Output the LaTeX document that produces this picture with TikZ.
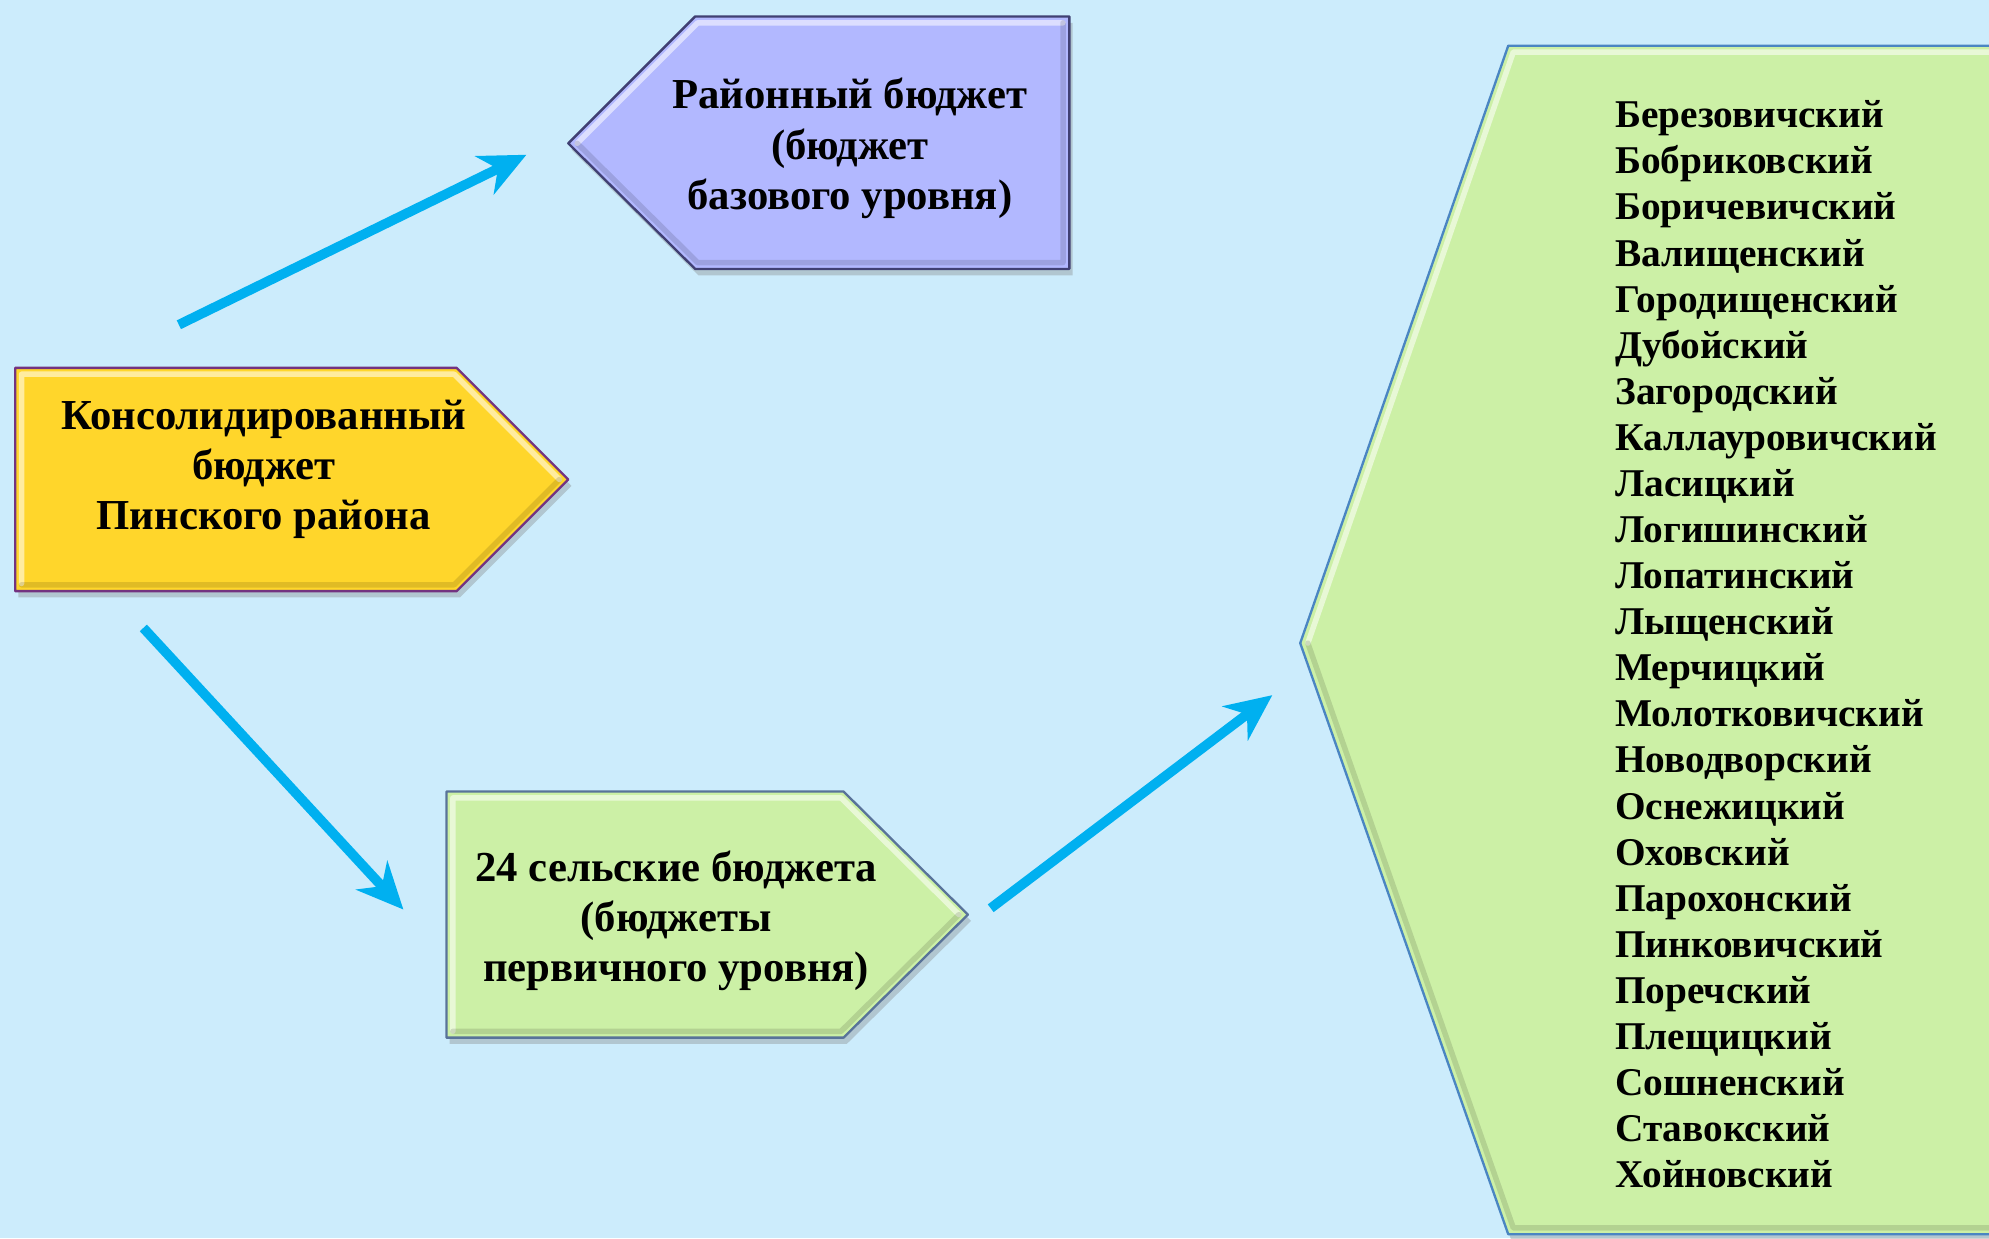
\documentclass[tikz,border=0pt]{standalone}
\usepackage{fontspec}
\setmainfont{Liberation Serif}
\usetikzlibrary{arrows.meta,shadows}
\definecolor{ccebfd}{rgb}{0.8,0.925,0.99}
\definecolor{ffd52a}{rgb}{1.,0.84,0.17}
\definecolor{ttqqaa}{rgb}{0.45,0.2,0.5}
\definecolor{b3b7fe}{rgb}{0.7,0.72,1.}
\definecolor{qqqqtt}{rgb}{0.25,0.25,0.45}
\definecolor{cdf0a6}{rgb}{0.8,0.94,0.65}
\definecolor{tthhbb}{rgb}{0.35,0.45,0.6}
\definecolor{qqttcc}{rgb}{0.29,0.52,0.76}
\definecolor{qqbbff}{rgb}{0.,0.69,0.94}
\begin{document}
\begin{tikzpicture}[line cap=round,line join=round,x=0.6pt,y=-0.6pt,
  >={Stealth[length=22pt,width=20pt,inset=7pt]},
  box/.style={line width=1.1pt,drop shadow={opacity=0.35,shadow xshift=1.5pt,shadow yshift=-3pt}},
  hi/.style={white,opacity=0.55,line width=2.6pt},
  lo/.style={black,opacity=0.12,line width=2.6pt},
  lbl/.style={align=center,inner sep=0pt,font=\fontsize{20.2}{23.7}\selectfont\bfseries},
  lst/.style={align=left,inner sep=0pt,font=\fontsize{18.6}{21.8}\selectfont\bfseries},
  arr/.style={->,line width=4.6pt,line cap=butt,color=qqbbff}]
\useasboundingbox (0,0) rectangle (1568,976);
\fill[ccebfd] (0,0) rectangle (1568,976);
\clip (0,0) rectangle (1568,976);
\draw[box,fill=ffd52a,draw=ttqqaa] (12,290) -- (360,290) -- (448,378) -- (360,466) -- (12,466) -- cycle;
\draw[hi] (17,460) -- (17,295) -- (358,295) -- (441,378);
\draw[lo] (441,378) -- (358,461) -- (17,461);
\draw[box,fill=b3b7fe,draw=qqqqtt] (448,113) -- (548,13) -- (843,13) -- (843,212) -- (548,212) -- cycle;
\draw[hi] (455,113) -- (550,18) -- (838,18);
\draw[lo] (838,18) -- (838,207) -- (550,207) -- (455,113);
\draw[box,fill=cdf0a6,draw=tthhbb] (352,624) -- (665,624) -- (763,721) -- (665,818) -- (352,818) -- cycle;
\draw[hi] (357,813) -- (357,629) -- (663,629) -- (756,721);
\draw[lo] (756,721) -- (663,813) -- (357,813);
\draw[box,fill=cdf0a6,draw=qqttcc] (1025,507) -- (1189,36) -- (1600,36) -- (1600,973) -- (1189,973) -- cycle;
\draw[hi] (1031,507) -- (1193,41) -- (1600,41);
\draw[lo] (1031,507) -- (1193,968) -- (1600,968);
\node[lbl] (kons) at (208,370) {Консолидированный\\бюджет\\Пинского района};
\node[lbl] (rayon) at (670,117) {Районный бюджет\\(бюджет\\базового уровня)};
\node[lbl] (selo) at (533,726) {24 сельские бюджета\\(бюджеты\\первичного уровня)};
\node[lst,anchor=west] (spisok) at (1273,508) {Березовичский\\Бобриковский\\Боричевичский\\Валищенский\\Городищенский\\Дубойский\\Загородский\\Каллауровичский\\Ласицкий\\Логишинский\\Лопатинский\\Лыщенский\\Мерчицкий\\Молотковичский\\Новодворский\\Оснежицкий\\Оховский\\Парохонский\\Пинковичский\\Поречский\\Плещицкий\\Сошненский\\Ставокский\\Хойновский};
\coordinate (s1) at (141,256);
\coordinate (e1) at (415,122);
\coordinate (s2) at (113,495);
\coordinate (e2) at (318,717);
\coordinate (s3) at (781,716);
\coordinate (e3) at (1003,548);
\draw[arr] (s1) -- (e1);
\draw[arr] (s2) -- (e2);
\draw[arr] (s3) -- (e3);
\end{tikzpicture}
\end{document}
